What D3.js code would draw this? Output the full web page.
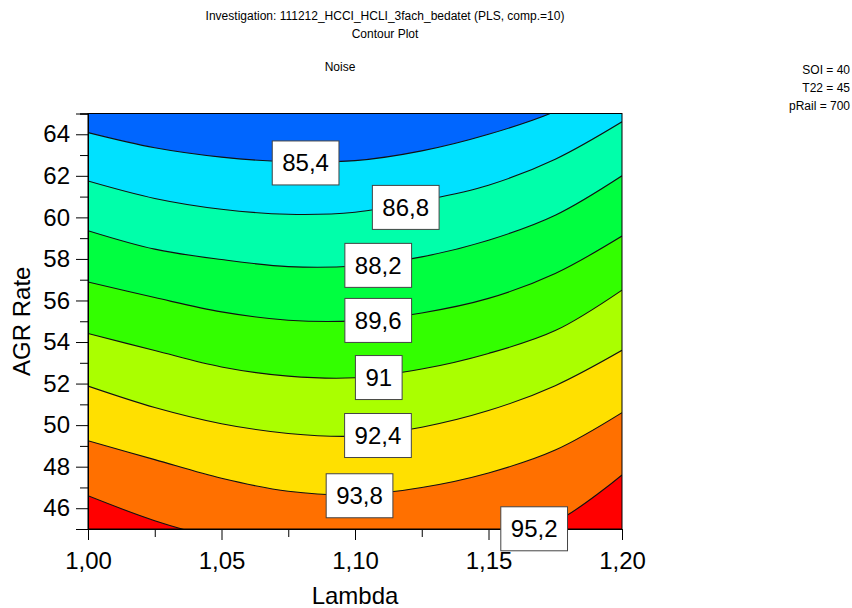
<!DOCTYPE html>
<html><head><meta charset="utf-8">
<script src="https://cdn.jsdelivr.net/npm/d3@7"></script>
<style>body{margin:0;background:#fff} svg{display:block}</style>
</head><body>
<svg id="c" width="852" height="608"></svg>
<script>
// ---- data ----
const lambdaGrid = [1.000, 1.025, 1.050, 1.075, 1.100, 1.125, 1.150, 1.175, 1.200];
const levelLabels = ["85,4", "86,8", "88,2", "89,6", "91", "92,4", "93,8", "95,2"];
const agr854 = [64.08, 63.35, 62.90, 62.68, 62.73, 63.20, 64.00, 65.10, 66.80];
const agr868 = [61.75, 60.91, 60.39, 60.15, 60.25, 60.80, 61.55, 62.80, 64.60];
const agr882 = [59.36, 58.47, 57.97, 57.63, 57.66, 58.10, 58.90, 60.10, 62.00];
const agr896 = [56.89, 56.14, 55.45, 55.05, 55.02, 55.40, 56.10, 57.30, 59.10];
const agr910 = [54.41, 53.59, 52.80, 52.36, 52.28, 52.70, 53.45, 54.55, 56.50];
const agr924 = [51.88, 50.85, 50.07, 49.60, 49.47, 49.90, 50.70, 51.90, 53.60];
const agr938 = [49.25, 48.34, 47.44, 46.82, 46.65, 47.00, 47.70, 48.80, 50.60];
const agr952 = [46.60, 45.40, 44.50, 43.88, 43.72, 43.95, 44.50, 45.35, 47.60];
const labelLambda = [1.0815, 1.1190, 1.1087, 1.1087, 1.1089, 1.1086, 1.1017, 1.1671];
const labelAGR    = [62.62, 60.48, 57.69, 55.04, 52.29, 49.50, 46.60, 45.01];
const bandColors = ["#0066ff", "#00e1ff", "#00ffaa", "#00ff40", "#33ff00", "#aaff00", "#ffe000", "#ff7000", "#ff0000"];
const xTickValues = [1.00, 1.05, 1.10, 1.15, 1.20];
const xMinorValues = [1.025, 1.075, 1.125, 1.175];
const yTickValues = [46, 48, 50, 52, 54, 56, 58, 60, 62, 64];
const yMinorValues = [45, 47, 49, 51, 53, 55, 57, 59, 61, 63, 65];
const titleLines = ["Investigation: 111212_HCCI_HCLI_3fach_bedatet (PLS, comp.=10)", "Contour Plot"];
const responseName = "Noise";
const settings = ["SOI = 40", "T22 = 45", "pRail = 700"];

const contours = [agr854, agr868, agr882, agr896, agr910, agr924, agr938, agr952]
  .map(arr => arr.map((v, i) => [lambdaGrid[i], v]));

// ---- layout ----
const L = 88, R = 622, T = 113.5, B = 529;
const FONT = "'Liberation Sans', Arial, sans-serif";
const svg = d3.select("#c");
const x = d3.scaleLinear().domain([1.0, 1.2]).range([L, R]);
const y = d3.scaleLinear().domain([45, 65]).range([B, T]);
const fmt = d => d.toFixed(2).replace(".", ",");

svg.append("defs").append("clipPath").attr("id", "plotclip")
  .append("rect").attr("x", L).attr("y", T).attr("width", R - L).attr("height", B - T);

const plot = svg.append("g").attr("clip-path", "url(#plotclip)");
plot.append("rect").attr("x", L).attr("y", T).attr("width", R - L).attr("height", B - T)
  .attr("fill", bandColors[bandColors.length - 1]);

const curve = d3.curveCatmullRom.alpha(0.5);
const area = d3.area().x(d => x(d[0])).y0(y(72)).y1(d => y(d[1])).curve(curve);
const line = d3.line().x(d => x(d[0])).y(d => y(d[1])).curve(curve);

for (let i = contours.length - 1; i >= 0; i--) {
  plot.append("path").attr("d", area(contours[i])).attr("fill", bandColors[i]);
}
contours.forEach(c => {
  plot.append("path").attr("d", line(c)).attr("fill", "none")
    .attr("stroke", "#111").attr("stroke-width", 1.1);
});

// frame
svg.append("rect").attr("x", L).attr("y", T).attr("width", R - L).attr("height", B - T)
  .attr("fill", "none").attr("stroke", "#000").attr("stroke-width", 1);

// axes
svg.append("g").attr("transform", `translate(${L},0)`)
  .call(d3.axisLeft(y).tickValues(yTickValues).tickSize(12).tickPadding(6).tickFormat(d3.format("d")));
svg.append("g").attr("transform", `translate(${L},0)`)
  .call(d3.axisLeft(y).tickValues(yMinorValues).tickSize(8).tickFormat(""));
svg.append("g").attr("transform", `translate(0,${B})`)
  .call(d3.axisBottom(x).tickValues(xTickValues).tickSize(11).tickPadding(12).tickFormat(fmt));
svg.append("g").attr("transform", `translate(0,${B})`)
  .call(d3.axisBottom(x).tickValues(xMinorValues).tickSize(8).tickFormat(""));
svg.selectAll(".domain").attr("stroke", "#000");
svg.selectAll(".tick line").attr("stroke", "#000");
svg.selectAll(".tick text").attr("font-family", FONT).attr("font-size", 24).attr("fill", "#000");

// contour labels
const lab = svg.append("g");
levelLabels.forEach((t, i) => {
  const cx = x(labelLambda[i]), cy = y(labelAGR[i]);
  const g = lab.append("g");
  const txt = g.append("text").attr("x", cx).attr("y", cy + 8.5)
    .attr("text-anchor", "middle").attr("font-family", FONT).attr("font-size", 24)
    .attr("fill", "#000").text(t);
  const w = txt.node().getComputedTextLength() + 20;
  g.insert("rect", "text").attr("x", cx - w / 2).attr("y", cy - 22).attr("width", w).attr("height", 44)
    .attr("fill", "#fff").attr("stroke", "#444").attr("stroke-width", 1);
});

// axis titles
svg.append("text").attr("x", (L + R) / 2).attr("y", 604).attr("text-anchor", "middle")
  .attr("font-family", FONT).attr("font-size", 24).text("Lambda");
svg.append("text").attr("transform", `translate(30,${(T + B) / 2}) rotate(-90)`).attr("text-anchor", "middle")
  .attr("font-family", FONT).attr("font-size", 24).text("AGR Rate");

// titles
titleLines.forEach((t, i) => {
  svg.append("text").attr("x", 385).attr("y", 20 + i * 18).attr("text-anchor", "middle")
    .attr("font-family", FONT).attr("font-size", 12).text(t);
});
svg.append("text").attr("x", 340).attr("y", 71).attr("text-anchor", "middle")
  .attr("font-family", FONT).attr("font-size", 12).text(responseName);
settings.forEach((t, i) => {
  svg.append("text").attr("x", 850).attr("y", 74 + i * 18).attr("text-anchor", "end")
    .attr("font-family", FONT).attr("font-size", 12).text(t);
});
</script>
</body></html>
